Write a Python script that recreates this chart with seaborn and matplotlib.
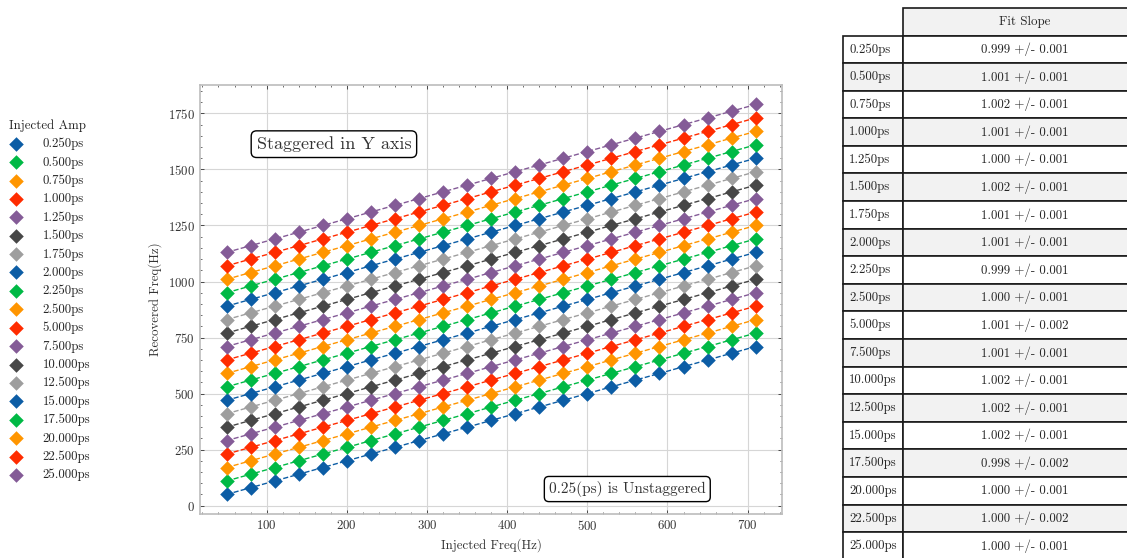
import numpy as np
import pandas as pd
import seaborn as sns
import matplotlib.pyplot as plt

# injected frequencies (Hz) and recovered frequencies before staggering
injected_hz = [50, 80, 110, 140, 170, 200, 230, 260, 290, 320, 350, 380,
               410, 440, 470, 500, 530, 560, 590, 620, 650, 680, 710]
recovered_hz = [50, 80, 110, 140, 170, 200, 230, 260, 290, 320, 350, 380,
                410, 440, 470, 500, 530, 560, 590, 620, 650, 680, 710]

# y offset added to each amplitude so the lines don't overlap
stagger_hz = [0, 60, 120, 180, 240, 300, 360, 420, 480, 540, 600, 660,
              720, 780, 840, 900, 960, 1020, 1080]

amp_labels = ['0.250ps', '0.500ps', '0.750ps', '1.000ps', '1.250ps', '1.500ps',
              '1.750ps', '2.000ps', '2.250ps', '2.500ps', '5.000ps', '7.500ps',
              '10.000ps', '12.500ps', '15.000ps', '17.500ps', '20.000ps',
              '22.500ps', '25.000ps']

fit_slopes = ['0.999 +/- 0.001', '1.001 +/- 0.001', '1.002 +/- 0.001',
              '1.001 +/- 0.001', '1.000 +/- 0.001', '1.002 +/- 0.001',
              '1.001 +/- 0.001', '1.001 +/- 0.001', '0.999 +/- 0.001',
              '1.000 +/- 0.001', '1.001 +/- 0.002', '1.001 +/- 0.001',
              '1.002 +/- 0.001', '1.002 +/- 0.001', '1.002 +/- 0.001',
              '0.998 +/- 0.002', '1.000 +/- 0.001', '1.000 +/- 0.002',
              '1.000 +/- 0.001']

palette = ['#0C5DA5', '#00B945', '#FF9500', '#FF2C00', '#845B97', '#474747', '#9e9e9e']

sns.set_theme(style='ticks', rc={
    'axes.edgecolor': '0.75',
    'grid.color': '#d6d6d6',
    'grid.linewidth': 0.8,
    'xtick.direction': 'in',
    'ytick.direction': 'in',
})
plt.rcParams['font.family'] = 'serif'
plt.rcParams['font.serif'] = ['cmr10']
plt.rcParams['mathtext.fontset'] = 'cm'
plt.rcParams['axes.formatter.use_mathtext'] = True

fs = 9.3

fig = plt.figure(figsize=(11.27, 5.58), dpi=100)
ax = fig.add_axes([0.1775, 0.079, 0.5165, 0.7687])

for i, (amp, off) in enumerate(zip(amp_labels, stagger_hz)):
    c = palette[i % len(palette)]
    y = np.array(recovered_hz) + off
    sns.lineplot(x=injected_hz, y=y, ax=ax, color=c, linestyle='--', linewidth=1.0, zorder=2)
    sns.scatterplot(x=injected_hz, y=y, ax=ax, color=c, marker='D', s=55,
                    linewidth=0, label=amp, zorder=3)

ax.grid(True, which='major')
ax.minorticks_on()
ax.tick_params(which='both', top=True, right=True, colors='0.2', labelsize=fs)
ax.tick_params(which='major', length=3, width=0.6)
ax.tick_params(which='minor', length=1.6, width=0.5)
ax.set_xlabel('Injected Freq(Hz)', fontsize=fs, color='0.2')
ax.set_ylabel('Recovered Freq(Hz)', fontsize=fs, color='0.2')

ax.text(0.23, 0.862, 'Staggered in Y axis', transform=ax.transAxes, ha='center', va='center',
        fontsize=13, color='0.2',
        bbox=dict(boxstyle='round,pad=0.3', fc='white', ec='black', lw=1))
ax.text(0.734, 0.058, '0.25(ps) is Unstaggered', transform=ax.transAxes, ha='center', va='center',
        fontsize=11, color='0.2',
        bbox=dict(boxstyle='round,pad=0.3', fc='white', ec='black', lw=1))

ax.legend(loc='center left', bbox_to_anchor=(0.0, 0.462), bbox_transform=fig.transFigure,
          frameon=False, title='Injected Amp', fontsize=fs, title_fontsize=fs,
          alignment='left', labelspacing=0.47, handlelength=1.1, handletextpad=1.5,
          borderaxespad=0.3)

# table of fit slopes on the right
tax = fig.add_axes([0.748, -0.003, 0.27, 0.9887])
tax.axis('off')
cell_text = [['', 'Fit Slope']] + [[a, s] for a, s in zip(amp_labels, fit_slopes)]
tbl = tax.table(cellText=cell_text, colWidths=[60 / 304, 244 / 304], bbox=[0, 0, 1, 1],
                cellLoc='center')
tbl.auto_set_font_size(False)
for (r, c), cell in tbl.get_celld().items():
    cell.set_linewidth(1.2)
    cell.get_text().set_fontsize(fs)
    cell.get_text().set_color('0.15')
    shade = '#f2f2f2' if r % 2 == 0 else 'white'
    cell.set_facecolor(shade)
    if c == 0:
        cell.get_text().set_ha('left')
    if r == 0 and c == 0:
        cell.set_edgecolor('none')
        cell.set_facecolor('none')

fig.savefig('out.png', dpi=100)
